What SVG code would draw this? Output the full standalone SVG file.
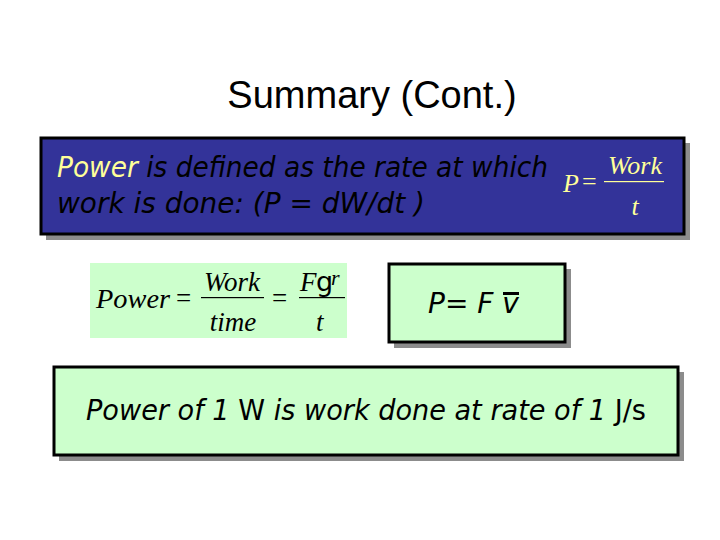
<svg xmlns="http://www.w3.org/2000/svg" width="720" height="540" viewBox="0 0 720 540">
<style>
.sh{fill:#8c8c8c}
.bx{stroke:#000;stroke-width:3}
.t{font-family:"DejaVu Sans",sans-serif;font-style:italic;font-size:28px}
.m{font-family:"Liberation Serif",serif;font-style:italic}
</style>
<rect width="720" height="540" fill="#fff"/>
<text x="372" y="108" text-anchor="middle" font-family="Liberation Sans,sans-serif" font-size="38">Summary (Cont.)</text>
<g id="def">
<rect class="sh" x="46" y="143" width="644" height="97"/>
<rect class="bx" x="41" y="138" width="643" height="96" fill="#333399"/>
<text class="t" x="57" y="177" textLength="491" lengthAdjust="spacingAndGlyphs"><tspan fill="#ffff99">Power</tspan> is defined as the rate at which</text>
<text class="t" x="57" y="213" textLength="368" lengthAdjust="spacingAndGlyphs">work is done:  (P = dW/dt )</text>
<g fill="#ffff99" class="m" font-size="26">
<text x="563" y="192">P</text><text x="582" y="190" font-style="normal">=</text>
<text x="635" y="174" text-anchor="middle">Work</text>
<rect x="604" y="181" width="60" height="1.2"/>
<text x="635" y="215" text-anchor="middle">t</text>
</g>
</g>
<g id="eq1">
<rect x="90" y="263" width="257" height="75" fill="#ccffcc"/>
<g class="m" font-size="27">
<text x="96" y="308" textLength="74" lengthAdjust="spacingAndGlyphs">Power</text><text x="176" y="307" font-style="normal">=</text>
<text x="232" y="291" text-anchor="middle">Work</text>
<rect x="201" y="297" width="63" height="1.2"/>
<text x="233" y="331" text-anchor="middle">time</text>
<text x="272" y="307" font-style="normal">=</text>
<text x="300" y="291">F</text><text x="316" y="291" font-family="DejaVu Sans,sans-serif" font-style="normal">g</text><text x="331" y="285" font-size="22">r</text>
<rect x="299" y="297" width="46" height="1.2"/>
<text x="316" y="331">t</text>
</g>
</g>
<g id="eq2">
<rect class="sh" x="394" y="269" width="177" height="79"/>
<rect class="bx" x="389" y="264" width="176" height="78" fill="#ccffcc"/>
<text class="t" x="428" y="313">P= F <tspan>v</tspan></text>
<rect x="503" y="292" width="16" height="3" fill="#000"/>
</g>
<g id="unit">
<rect class="sh" x="59" y="372" width="625" height="89"/>
<rect class="bx" x="54" y="367" width="624" height="88" fill="#ccffcc"/>
<text class="t" x="86" y="420" textLength="560" lengthAdjust="spacingAndGlyphs">Power of 1 <tspan font-style="normal">W</tspan> is work done at rate of 1 <tspan font-style="normal">J/s</tspan></text>
</g>
</svg>
